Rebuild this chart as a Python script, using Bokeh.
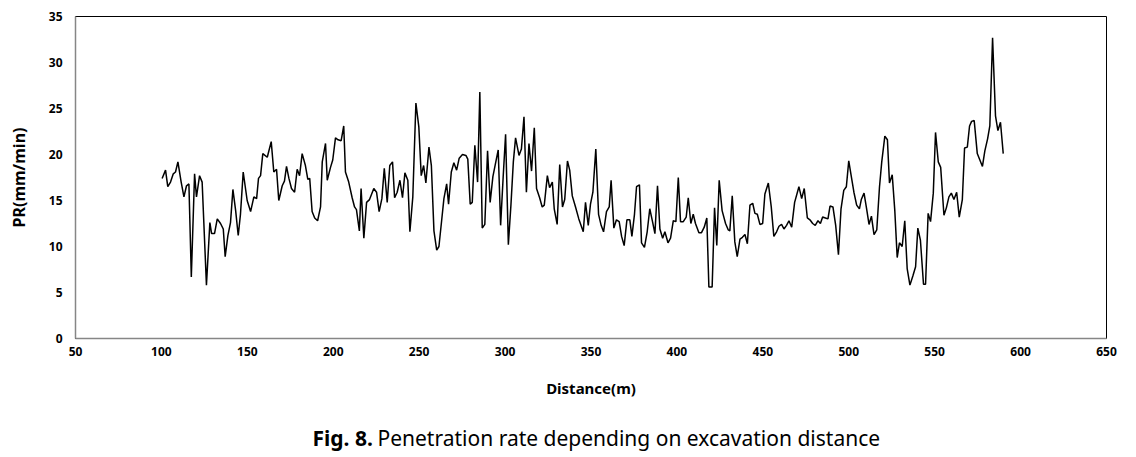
from bokeh.plotting import figure
from bokeh.models import Range1d, FixedTicker
from bokeh.layouts import column
from bokeh.core.properties import value
from bokeh.embed import file_html
from bokeh.resources import INLINE

distance_m = [
    100.4, 102.4, 103.7, 105.3, 106.9, 108.2, 109.6, 111.5, 113.1, 114.6, 116.0, 117.4, 119.3, 120.4, 122.2,
    123.7, 126.2, 128.2, 129.2, 130.9, 132.5, 134.4, 136.0, 137.1, 138.7, 140.2, 141.6, 143.2, 144.7, 146.0,
    147.6, 149.9, 151.9, 153.8, 155.4, 156.5, 157.7, 159.0, 161.6, 163.9, 165.4, 167.0, 168.3, 170.3, 171.6,
    172.8, 174.2, 175.7, 177.5, 179.0, 180.4, 181.9, 183.8, 185.2, 186.3, 187.7, 189.2, 190.9, 192.6, 193.6,
    195.5, 196.5, 198.4, 199.7, 201.3, 202.8, 204.6, 206.1, 207.1, 209.0, 211.0, 212.4, 213.5, 215.2,
    216.2, 217.8, 219.4, 221.1, 223.6, 225.2, 226.7, 228.3, 229.7, 231.4, 232.9, 234.5, 235.7, 237.2, 238.8,
    240.3, 241.7, 243.4, 244.6, 246.3, 248.1, 249.8, 251.2, 252.6, 253.9, 255.7, 257.1, 258.6, 260.2, 261.5,
    262.9, 264.4, 266.0, 267.1, 268.7, 270.2, 271.8, 273.3, 275.2, 277.2, 278.3,
    279.7, 280.9, 282.4, 284.0, 285.3, 286.7, 288.2, 289.8, 291.3, 292.9, 294.4, 296.0, 297.4, 298.9, 300.3,
    301.9, 303.4, 304.8, 306.1, 308.1, 309.5, 311.0, 312.4, 313.9, 315.4, 317.0, 318.3, 320.1, 321.6, 322.8,
    324.6, 325.9, 327.5, 328.6, 330.3, 331.8, 333.4, 334.7, 336.3, 337.6,
    339.1, 341.0, 342.9, 345.5, 346.8, 348.4, 349.7, 351.1, 352.8, 354.4, 355.9, 357.3, 359.0, 360.6, 361.7,
    363.3, 364.8, 366.4, 367.8, 369.3, 370.9, 372.6, 373.8, 375.3, 376.5, 378.2, 379.4, 381.1, 382.7, 384.2,
    385.8, 387.2, 388.7, 390.1, 391.7, 393.0, 394.8, 396.3, 397.9, 399.4,
    400.8, 402.1, 403.7, 405.4, 406.6, 408.1, 409.5, 410.8, 412.8, 414.3, 415.9, 417.4, 418.6, 420.5, 421.9,
    423.2, 424.6, 426.3, 428.3, 429.9, 430.8, 432.2, 433.7, 435.1, 436.7, 438.1, 439.6, 441.0, 442.5, 444.1,
    445.4, 446.8, 448.3, 449.9, 451.2, 453.2, 454.9, 456.4, 458.0, 459.4, 460.9,
    462.3, 463.8, 465.2, 466.8, 468.5, 471.0, 472.6, 474.1, 475.9, 477.4, 479.0, 480.5, 482.1, 483.5, 484.8,
    486.4, 487.9, 489.1, 490.8, 492.4, 494.0, 495.5, 497.1, 498.6, 500.0, 501.5, 503.0, 504.6, 506.2, 507.3,
    508.9, 510.4, 511.8, 513.2, 514.7, 516.3, 517.9, 519.2, 521.0, 522.5,
    523.7, 525.3, 526.8, 528.2, 529.5, 531.1, 532.6, 534.0, 535.6, 537.3, 538.9, 540.2, 541.7, 543.5, 544.7,
    546.2, 547.6, 549.2, 550.5, 552.1, 553.5, 555.4, 556.8, 558.3, 559.7, 561.2, 562.8, 564.3, 566.1, 567.4,
    569.0, 570.3, 571.5, 573.0, 574.8, 576.3, 577.8, 579.2, 580.8, 582.1, 583.7, 585.4, 586.8, 588.3, 589.9,
]

pr_mm_min = [
    17.4, 18.3, 16.5, 17.0, 17.9, 18.1, 19.2, 17.0, 15.4, 16.6, 16.8, 6.7, 17.9, 15.4, 17.7,
    17.0, 5.8, 12.6, 11.4, 11.4, 13.0, 12.5, 11.9, 8.9, 11.2, 12.6, 16.2, 13.9, 11.2, 13.5,
    18.1, 15.0, 13.8, 15.4, 15.2, 17.4, 17.7, 20.1, 19.7, 21.4, 18.1, 18.4, 15.0, 16.6, 17.1,
    18.7, 17.4, 16.3, 15.9, 18.4, 17.7, 20.1, 18.8, 17.3, 17.4, 13.8, 13.1, 12.8, 14.3, 19.2,
    21.2, 17.2, 18.6, 19.4, 21.8, 21.6, 21.5, 23.1, 18.1, 17.0, 15.3, 14.3, 14.0, 11.7,
    16.3, 10.9, 14.8, 15.1, 16.3, 15.9, 13.8, 15.2, 18.5, 14.8, 18.8, 19.2, 15.3, 15.9, 17.2,
    15.3, 18.0, 17.2, 11.6, 15.4, 25.6, 23.0, 17.7, 18.8, 16.9, 20.8, 18.8, 11.7, 9.6, 10.0,
    12.5, 15.2, 16.8, 14.6, 18.1, 19.1, 18.3, 19.6, 20.0, 19.9, 19.5,
    14.6, 14.8, 21.0, 17.0, 26.8, 12.0, 12.4, 20.4, 14.8, 17.6, 19.0, 20.5, 12.3, 17.6, 22.2,
    10.2, 14.5, 19.2, 21.8, 19.9, 20.6, 24.1, 15.9, 21.2, 18.2, 22.9, 16.3, 15.3, 14.3, 14.5,
    17.7, 16.4, 17.0, 14.1, 12.4, 18.9, 14.3, 15.1, 19.3, 18.3,
    15.5, 14.3, 13.0, 11.6, 14.8, 12.3, 14.6, 15.9, 20.6, 13.5, 12.3, 11.6, 13.8, 14.3, 17.2,
    12.0, 12.9, 12.7, 11.1, 10.1, 12.9, 12.9, 11.1, 13.5, 16.5, 16.7, 10.4, 9.9, 11.6, 14.1,
    12.7, 11.4, 16.6, 11.9, 10.9, 11.6, 10.4, 10.9, 12.8, 12.7,
    17.5, 12.7, 12.7, 13.2, 15.3, 12.5, 13.5, 12.5, 11.5, 11.5, 12.1, 13.1, 5.6, 5.6, 14.2,
    10.1, 17.2, 13.9, 12.5, 11.8, 11.7, 15.5, 10.5, 8.9, 10.8, 11.0, 11.3, 10.3, 14.5, 14.7,
    13.6, 13.5, 12.4, 12.5, 15.7, 16.9, 14.3, 11.1, 11.6, 12.2, 12.4,
    11.9, 12.3, 12.8, 12.1, 14.8, 16.5, 15.2, 16.3, 13.1, 12.9, 12.5, 12.3, 12.8, 12.5, 13.2,
    13.1, 13.0, 14.4, 14.3, 12.3, 9.1, 14.1, 16.1, 16.5, 19.3, 17.6, 15.9, 14.5, 14.1, 15.1,
    15.8, 14.1, 12.4, 13.3, 11.3, 11.8, 16.5, 19.2, 22.0, 21.6,
    16.9, 17.8, 13.9, 8.8, 10.4, 10.0, 12.8, 7.6, 5.8, 6.8, 7.8, 12.0, 10.7, 5.9, 5.9,
    13.6, 12.7, 15.8, 22.4, 19.2, 18.6, 13.4, 14.2, 15.4, 15.8, 15.1, 15.9, 13.2, 15.1, 20.7,
    20.8, 23.1, 23.6, 23.7, 20.1, 19.4, 18.7, 20.4, 21.7, 23.1, 32.7, 24.2, 22.6, 23.5, 20.1,
]

x_ticks = [50, 100, 150, 200, 250, 300, 350, 400, 450, 500, 550, 600, 650]
y_ticks = [0, 5, 10, 15, 20, 25, 30, 35]

x_title = "Distance(m)"
y_title = "PR(mm/min)"
caption_bold = ["Fig. 8."]
caption_rest = ["Penetration rate depending on excavation distance"]

FRAME_LEFT, FRAME_RIGHT = 75, 1106

p = figure(width=1136, height=405, output_backend="svg", toolbar_location=None,
           x_range=Range1d(50, 650), y_range=Range1d(0, 35),
           min_border_left=FRAME_LEFT, min_border_right=1136 - FRAME_RIGHT,
           min_border_top=16, min_border_bottom=67)

p.line(distance_m, pr_mm_min, line_color="black", line_width=1.5)

p.xgrid.visible = False
p.ygrid.visible = False
p.outline_line_color = "black"
p.outline_line_width = 1

for ax in (p.xaxis[0], p.yaxis[0]):
    ax.axis_line_color = "#868686"
    ax.axis_line_width = 1.5
    ax.major_tick_line_color = None
    ax.minor_tick_line_color = None
    ax.major_label_text_font = "Noto Sans"
    ax.major_label_text_font_style = "bold"
    ax.major_label_text_font_size = "12px"
    ax.major_label_text_color = "black"
    ax.axis_label_text_font = "Noto Sans"
    ax.axis_label_text_font_style = "bold"
    ax.axis_label_text_color = "black"

p.xaxis.ticker = FixedTicker(ticks=x_ticks)
p.yaxis.ticker = FixedTicker(ticks=y_ticks)
p.xaxis.major_label_standoff = 2
p.yaxis.major_label_standoff = 7
p.xaxis.axis_label = x_title
p.yaxis.axis_label = y_title
p.xaxis.axis_label_text_font_size = "15px"
p.yaxis.axis_label_text_font_size = "16px"
p.xaxis.axis_label_standoff = 19
p.yaxis.axis_label_standoff = 16

# caption strip: its frame is aligned with the chart frame by the column layout,
# so the x range is expressed in page pixels over that frame
cap = figure(width=1136, height=52, output_backend="svg", toolbar_location=None,
             x_range=Range1d(FRAME_LEFT, FRAME_RIGHT), y_range=Range1d(0, 52),
             x_axis_type=None, y_axis_type=None, min_border=0)
cap.outline_line_color = None
cap.text(x=[312], y=[20], text=caption_bold, text_font=value("Noto Sans"),
         text_font_style="bold", text_font_size="21px", text_baseline="middle",
         text_align="left", text_color="black")
cap.text(x=[377], y=[20], text=caption_rest, text_font=value("Noto Sans"),
         text_font_size="21px", text_baseline="middle",
         text_align="left", text_color="black")

open("out.html", "w").write(file_html(column(p, cap, spacing=0), INLINE))
